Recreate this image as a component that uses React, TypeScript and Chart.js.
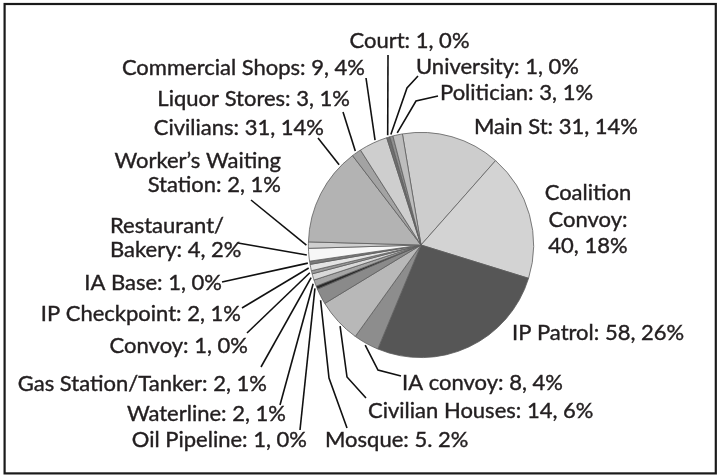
import React, { useEffect, useRef } from "react";
import { Chart, registerables } from "chart.js";

Chart.register(...registerables);

// ---------- data ----------
const categories = [
  "Main St", "Coalition Convoy", "IP Patrol", "IA convoy", "Civilian Houses",
  "Mosque", "Oil Pipeline", "Waterline", "Gas Station/Tanker", "Convoy",
  "IP Checkpoint", "IA Base", "Restaurant/Bakery", "Worker's Waiting Station",
  "Civilians", "Liquor Stores", "Commercial Shops", "Court", "University", "Politician",
];
const values = [31, 40, 58, 8, 14, 5, 1, 2, 2, 1, 2, 1, 4, 2, 31, 3, 9, 1, 1, 3];
const labelTexts: string[][] = [
  ["Main St: 31, 14%"],
  ["Coalition", "Convoy:", "40, 18%"],
  ["IP Patrol: 58, 26%"],
  ["IA convoy: 8, 4%"],
  ["Civilian Houses: 14, 6%"],
  ["Mosque: 5. 2%"],
  ["Oil Pipeline: 1, 0%"],
  ["Waterline: 2, 1%"],
  ["Gas Station/Tanker: 2, 1%"],
  ["Convoy: 1, 0%"],
  ["IP Checkpoint: 2, 1%"],
  ["IA Base: 1, 0%"],
  ["Restaurant/", "Bakery: 4, 2%"],
  ["Worker\u2019s Waiting", "Station: 2, 1%"],
  ["Civilians: 31, 14%"],
  ["Liquor Stores: 3, 1%"],
  ["Commercial Shops: 9, 4%"],
  ["Court: 1, 0%"],
  ["University: 1, 0%"],
  ["Politician: 3, 1%"],
];

// ---------- styles ----------
const sliceColors = [
  "#cdcdcd", "#d3d3d3", "#565656", "#8d8d8d", "#b8b8b8",
  "#8a8a8a", "#2a2a2a", "#a5a5a5", "#d9d9d9", "#9a9a9a",
  "#e4e4e4", "#7a7a7a", "#f7f7f7", "#cfcfcf", "#b3b3b3",
  "#a3a3a3", "#cecece", "#6e6e6e", "#8f8f8f", "#bdbdbd",
];

type LabelLayout = {
  align: CanvasTextAlign;
  dx: number;
  dy: number;
  lh?: number;
  pts?: number[][];
  frac?: number;
};

// label placement, offsets (px) relative to the pie centre
const labelLayout: LabelLayout[] = [
  { align: "left", dx: 53, dy: -111 },
  { align: "center", dx: 167, dy: -45, lh: 26.5 },
  { align: "left", dx: 91, dy: 95 },
  { align: "left", dx: -19, dy: 145, pts: [[-43, 125], [-20, 131]] },
  { align: "left", dx: -53, dy: 173, pts: [[-74, 132], [-55, 153]], frac: 0.4 },
  { align: "left", dx: -96, dy: 202, pts: [[-92, 133], [-74, 183]], frac: 0.3 },
  { align: "right", dx: -114, dy: 202, pts: [[-121, 185]] },
  { align: "right", dx: -135, dy: 176, pts: [[-141, 160]] },
  { align: "right", dx: -154, dy: 146, pts: [[-160, 122]] },
  { align: "right", dx: -173, dy: 108, pts: [[-174, 88]] },
  { align: "right", dx: -180, dy: 76, pts: [[-179, 63]] },
  { align: "right", dx: -199, dy: 45, pts: [[-199, 37]] },
  { align: "left", dx: -311, dy: -12, lh: 24, pts: [[-183, -2]] },
  { align: "right", dx: -140, dy: -77, lh: 24, pts: [[-170, -45]] },
  { align: "right", dx: -97, dy: -110, pts: [[-103, -107]], frac: 0.84 },
  { align: "right", dx: -71, dy: -139, pts: [[-78, -133]] },
  { align: "right", dx: -56, dy: -170, pts: [[-55, -167]], frac: 0.6 },
  { align: "center", dx: -11.5, dy: -197, pts: [[-33, -190]] },
  { align: "left", dx: -5, dy: -171, pts: [[-14, -157], [-3, -169]] },
  { align: "left", dx: 19, dy: -145, pts: [[-5, -144], [17, -149]] },
];

const FONT = "22px Lato, 'Open Sans', sans-serif";
const TEXT_COLOR = "#231f20";

const framePlugin = {
  id: "frame",
  beforeDraw(chart: any) {
    const ctx = chart.ctx as CanvasRenderingContext2D;
    ctx.save();
    ctx.fillStyle = "#ffffff";
    ctx.fillRect(0, 0, chart.width, chart.height);
    ctx.strokeStyle = "#1a1a1a";
    ctx.lineWidth = 2.2;
    ctx.strokeRect(4.6, 4, 711.2, 469.4);
    ctx.restore();
  },
};

const outLabelPlugin = {
  id: "outLabels",
  afterDatasetsDraw(chart: any) {
    const ctx = chart.ctx as CanvasRenderingContext2D;
    const meta = chart.getDatasetMeta(0);
    ctx.save();
    meta.data.forEach((arc: any, i: number) => {
      const p = arc.getProps(["x", "y", "startAngle", "endAngle", "outerRadius"], true);
      const L = labelLayout[i];
      const lines = labelTexts[i];
      if (!L || !lines) return;
      const cx = p.x, cy = p.y;
      if (L.pts && L.pts.length) {
        const f = L.frac ?? 0.5;
        const a = p.startAngle + (p.endAngle - p.startAngle) * f;
        const r = p.outerRadius + 2;
        ctx.beginPath();
        ctx.moveTo(cx + r * Math.cos(a), cy + r * Math.sin(a));
        L.pts.forEach((q) => ctx.lineTo(cx + q[0], cy + q[1]));
        ctx.strokeStyle = "#111111";
        ctx.lineWidth = 1.6;
        ctx.stroke();
      }
      ctx.font = FONT;
      ctx.fillStyle = TEXT_COLOR;
      ctx.strokeStyle = TEXT_COLOR;
      ctx.lineWidth = 0.4;
      ctx.textAlign = L.align;
      ctx.textBaseline = "alphabetic";
      const lh = L.lh ?? 26;
      lines.forEach((t, k) => {
        ctx.fillText(t, cx + L.dx, cy + L.dy + k * lh);
        ctx.strokeText(t, cx + L.dx, cy + L.dy + k * lh);
      });
    });
    ctx.restore();
  },
};

export default function App() {
  const ref = useRef<HTMLCanvasElement | null>(null);
  useEffect(() => {
    document.body.style.margin = "0";
    if (!ref.current) return;
    const chart = new Chart(ref.current, {
      type: "pie",
      data: {
        labels: categories,
        datasets: [
          {
            data: values,
            backgroundColor: sliceColors,
            borderColor: "#5e5e5e",
            borderWidth: 0.8,
          },
        ],
      },
      options: {
        responsive: false,
        animation: false,
        devicePixelRatio: 1,
        rotation: -9.5,
        events: [],
        layout: { padding: { left: 308, right: 183, top: 132, bottom: 118 } },
        plugins: {
          legend: { display: false },
          tooltip: { enabled: false },
        },
      },
      plugins: [framePlugin, outLabelPlugin],
    });
    return () => chart.destroy();
  }, []);
  return (
    <div style={{ position: "absolute", left: 0, top: 0, width: 717, height: 476 }}>
      <canvas ref={ref} width={717} height={476} style={{ width: 717, height: 476 }} />
    </div>
  );
}
